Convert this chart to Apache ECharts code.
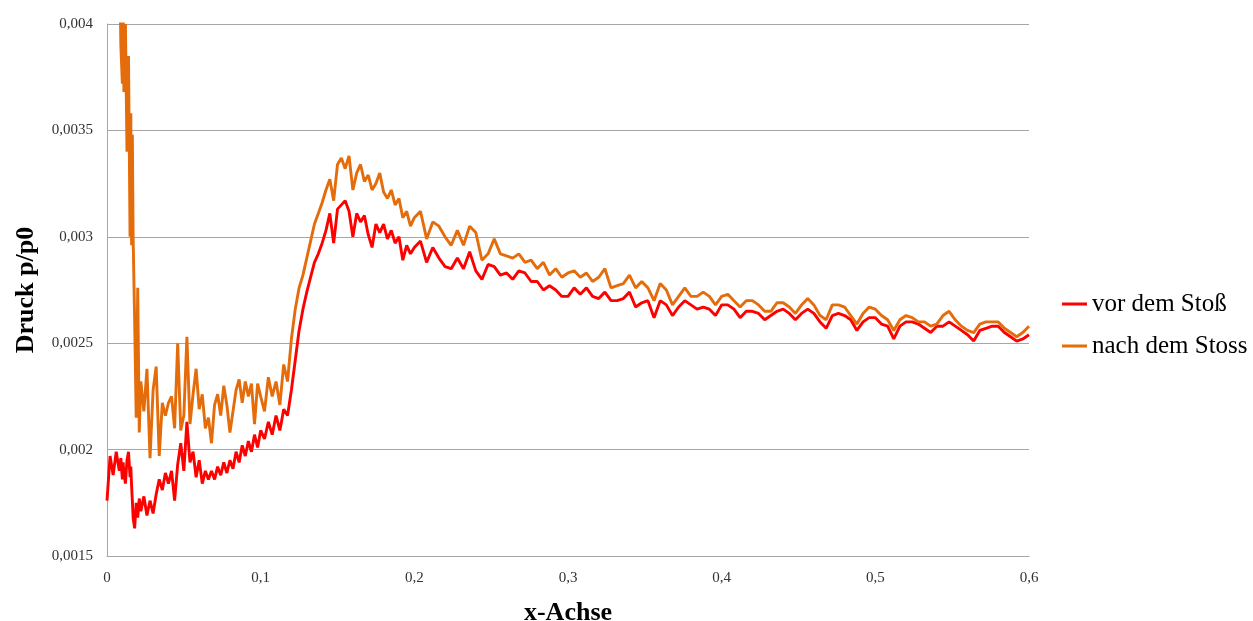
<!DOCTYPE html>
<html>
<head>
<meta charset="utf-8">
<script src="https://cdn.jsdelivr.net/npm/echarts@6/dist/echarts.min.js"></script>
<style>
  html, body { margin: 0; padding: 0; background: #ffffff; }
  #chart { width: 1253px; height: 621px; }
</style>
</head>
<body>
<div id="chart"></div>
<script>
// Messpositionen entlang der x-Achse
const xs = [
  0, 0.002, 0.004, 0.006, 0.008, 0.009, 0.010, 0.0105, 0.011, 0.012,
  0.013, 0.014, 0.015, 0.0155, 0.016, 0.0165, 0.017, 0.018, 0.019, 0.020,
  0.021, 0.022, 0.024, 0.026, 0.028, 0.030, 0.032, 0.034, 0.036, 0.038,
  0.040, 0.042, 0.044, 0.046, 0.048, 0.050, 0.052, 0.054, 0.056, 0.058,
  0.060, 0.062, 0.064, 0.066, 0.068, 0.070, 0.072, 0.074, 0.076, 0.078,
  0.080, 0.082, 0.084, 0.086, 0.088, 0.090, 0.092, 0.094, 0.096, 0.098,
  0.100,
  0.1025, 0.105, 0.1075, 0.110, 0.1125, 0.115, 0.1175, 0.120, 0.1225, 0.125,
  0.1275, 0.130, 0.1325, 0.135, 0.1375, 0.140, 0.1425, 0.145, 0.1475, 0.150,
  0.1525, 0.155, 0.1575, 0.160, 0.1625, 0.165, 0.1675, 0.170, 0.1725, 0.175,
  0.1775, 0.180, 0.1825, 0.185, 0.1875, 0.190, 0.1925, 0.195, 0.1975, 0.200,
  0.204, 0.208, 0.212, 0.216, 0.220, 0.224, 0.228, 0.232, 0.236, 0.240,
  0.244, 0.248, 0.252, 0.256, 0.260, 0.264, 0.268, 0.272, 0.276, 0.280,
  0.284, 0.288, 0.292, 0.296,
  0.300, 0.304, 0.308, 0.312, 0.316, 0.320, 0.324, 0.328, 0.332, 0.336,
  0.340, 0.344, 0.348, 0.352, 0.356, 0.360, 0.364, 0.368, 0.372, 0.376,
  0.380, 0.384, 0.388, 0.392, 0.396, 0.400, 0.404, 0.408, 0.412, 0.416,
  0.420, 0.424, 0.428, 0.432, 0.436, 0.440, 0.444, 0.448, 0.452, 0.456,
  0.460, 0.464, 0.468, 0.472, 0.476, 0.480, 0.484, 0.488, 0.492, 0.496,
  0.500, 0.504, 0.508, 0.512, 0.516, 0.520, 0.524, 0.528, 0.532, 0.536,
  0.540, 0.544, 0.548, 0.552, 0.556, 0.560, 0.564, 0.568, 0.572, 0.576,
  0.580, 0.584, 0.588, 0.592, 0.596, 0.600
];

// Druck p/p0 vor dem Stoß
const vorDemStoss = [
  0.00176, 0.00197, 0.00188, 0.00199, 0.00190, 0.00196, 0.00186, 0.00194, 0.00189, 0.00184,
  0.00195, 0.00199, 0.00187, 0.00192, 0.00183, 0.00176, 0.00168, 0.00163, 0.00175, 0.00168,
  0.00177, 0.00171, 0.00178, 0.00169, 0.00176, 0.00170, 0.00179, 0.00186, 0.00181, 0.00189,
  0.00184, 0.00190, 0.00176, 0.00193, 0.00203, 0.00190, 0.00213, 0.00194, 0.00199, 0.00187,
  0.00195, 0.00184, 0.00190, 0.00186, 0.00190, 0.00186, 0.00192, 0.00188, 0.00194, 0.00189,
  0.00195, 0.00191, 0.00199, 0.00194, 0.00202, 0.00197, 0.00204, 0.00199, 0.00207, 0.00201,
  0.00209,
  0.00205, 0.00213, 0.00207, 0.00216, 0.00209, 0.00219, 0.00216, 0.00228, 0.00242, 0.00256,
  0.00266, 0.00274, 0.00281, 0.00288, 0.00292, 0.00297, 0.00303, 0.00311, 0.00297, 0.00313,
  0.00315, 0.00317, 0.00312, 0.00300, 0.00311, 0.00307, 0.00310, 0.00301, 0.00295, 0.00306,
  0.00302, 0.00306, 0.00299, 0.00303, 0.00297, 0.00300, 0.00289, 0.00296, 0.00292, 0.00295,
  0.00298, 0.00288, 0.00295, 0.00290, 0.00286, 0.00285, 0.00290, 0.00285, 0.00293, 0.00284,
  0.00280, 0.00287, 0.00286, 0.00282, 0.00283, 0.00280, 0.00284, 0.00283, 0.00279, 0.00279,
  0.00275, 0.00277, 0.00275, 0.00272,
  0.00272, 0.00276, 0.00273, 0.00276, 0.00272, 0.00271, 0.00274, 0.00270, 0.00270, 0.00271,
  0.00274, 0.00267, 0.00269, 0.00270, 0.00262, 0.00270, 0.00268, 0.00263, 0.00267, 0.00270,
  0.00268, 0.00266, 0.00267, 0.00266, 0.00263, 0.00268, 0.00268, 0.00266, 0.00262, 0.00265,
  0.00265, 0.00264, 0.00261, 0.00263, 0.00265, 0.00266, 0.00264, 0.00261, 0.00264, 0.00266,
  0.00264, 0.00260, 0.00257, 0.00263, 0.00264, 0.00263, 0.00261, 0.00256, 0.00260, 0.00262,
  0.00262, 0.00259, 0.00258, 0.00252, 0.00258, 0.00260, 0.00260, 0.00259, 0.00257, 0.00255,
  0.00258, 0.00258, 0.00260, 0.00258, 0.00256, 0.00254, 0.00251, 0.00256, 0.00257, 0.00258,
  0.00258, 0.00255, 0.00253, 0.00251, 0.00252, 0.00254
];

// Druck p/p0 nach dem Stoss (Werte über 0,004 liegen außerhalb des Diagramms)
const nachDemStoss = [
  0.0045, 0.0045, 0.0045, 0.0045, 0.0044, 0.0039, 0.00372, 0.0041, 0.00368, 0.0040,
  0.00340, 0.00385, 0.00300, 0.00358, 0.00296, 0.00348, 0.00300, 0.00260, 0.00215, 0.00276,
  0.00208, 0.00232, 0.00218, 0.00238, 0.00196, 0.00228, 0.00239, 0.00197, 0.00222, 0.00216,
  0.00222, 0.00225, 0.00210, 0.00250, 0.00209, 0.00216, 0.00253, 0.00212, 0.00226, 0.00238,
  0.00219, 0.00226, 0.00210, 0.00215, 0.00203, 0.00221, 0.00226, 0.00216, 0.00230, 0.00221,
  0.00208, 0.00218, 0.00228, 0.00233, 0.00222, 0.00232, 0.00225, 0.00231, 0.00212, 0.00231,
  0.00225,
  0.00218, 0.00234, 0.00225, 0.00232, 0.00221, 0.00240, 0.00232, 0.00252, 0.00266, 0.00276,
  0.00282, 0.00290, 0.00298, 0.00306, 0.00311, 0.00316, 0.00322, 0.00327, 0.00317, 0.00334,
  0.00337, 0.00332, 0.00338, 0.00322, 0.00330, 0.00334, 0.00326, 0.00329, 0.00322, 0.00325,
  0.00330, 0.00321, 0.00318, 0.00322, 0.00315, 0.00318, 0.00309, 0.00312, 0.00305, 0.00309,
  0.00312, 0.00299, 0.00307, 0.00305, 0.00300, 0.00296, 0.00303, 0.00296, 0.00305, 0.00302,
  0.00289, 0.00292, 0.00299, 0.00292, 0.00291, 0.00290, 0.00292, 0.00288, 0.00289, 0.00285,
  0.00288, 0.00282, 0.00285, 0.00281,
  0.00283, 0.00284, 0.00281, 0.00283, 0.00279, 0.00281, 0.00285, 0.00276, 0.00277, 0.00278,
  0.00282, 0.00276, 0.00279, 0.00276, 0.00270, 0.00278, 0.00275, 0.00268, 0.00272, 0.00276,
  0.00272, 0.00272, 0.00274, 0.00272, 0.00268, 0.00272, 0.00273, 0.00270, 0.00267, 0.00270,
  0.00270, 0.00268, 0.00265, 0.00265, 0.00269, 0.00269, 0.00267, 0.00264, 0.00268, 0.00271,
  0.00268, 0.00263, 0.00261, 0.00268, 0.00268, 0.00267, 0.00263, 0.00259, 0.00264, 0.00267,
  0.00266, 0.00263, 0.00261, 0.00256, 0.00261, 0.00263, 0.00262, 0.00260, 0.00260, 0.00258,
  0.00259, 0.00263, 0.00265, 0.00261, 0.00258, 0.00256, 0.00255, 0.00259, 0.00260, 0.00260,
  0.00260, 0.00257, 0.00255, 0.00253, 0.00255, 0.00258
];

const seriesNames = ['vor dem Stoß', 'nach dem Stoss'];
const xTitle = 'x-Achse';
const yTitle = 'Druck p/p0';

// Dezimalkomma wie in der deutschen Schreibweise
function deComma(v) {
  return String(+v.toFixed(6)).replace('.', ',');
}

function pairs(ys) {
  return xs.map((x, i) => [x, ys[i]]);
}

const serif = 'Liberation Serif';
const chart = echarts.init(document.getElementById('chart'), null, { renderer: 'canvas' });

chart.setOption({
  animation: false,
  backgroundColor: '#ffffff',
  grid: {
    left: 107, right: 224, top: 24, bottom: 65,
    containLabel: false,
    outerBoundsMode: 'none'
  },
  legend: {
    orient: 'vertical',
    left: 1057,
    top: 285,
    icon: 'rect',
    itemWidth: 25,
    itemHeight: 3,
    itemGap: 14,
    data: seriesNames,
    textStyle: { fontFamily: serif, fontSize: 25, color: '#000000', lineHeight: 28 }
  },
  xAxis: {
    type: 'value',
    min: 0,
    max: 0.6,
    interval: 0.1,
    name: xTitle,
    nameLocation: 'middle',
    nameGap: 44,
    nameTextStyle: { fontFamily: serif, fontWeight: 'bold', fontSize: 26, color: '#000000' },
    axisLine: { show: true, lineStyle: { color: '#a6a6a6', width: 1 } },
    axisTick: { show: false },
    splitLine: { show: false },
    axisLabel: {
      margin: 15,
      fontFamily: serif,
      fontSize: 15,
      color: '#333333',
      formatter: deComma
    }
  },
  yAxis: {
    type: 'value',
    min: 0.0015,
    max: 0.004,
    interval: 0.0005,
    name: yTitle,
    nameLocation: 'middle',
    nameGap: 68,
    nameRotate: 90,
    nameTextStyle: { fontFamily: serif, fontWeight: 'bold', fontSize: 26, color: '#000000' },
    axisLine: { show: true, lineStyle: { color: '#a6a6a6', width: 1 } },
    axisTick: { show: false },
    splitLine: { show: true, lineStyle: { color: '#a6a6a6', width: 1 } },
    axisLabel: {
      margin: 14,
      fontFamily: serif,
      fontSize: 15,
      color: '#333333',
      formatter: deComma
    }
  },
  series: [
    {
      name: seriesNames[0],
      type: 'line',
      data: pairs(vorDemStoss),
      symbol: 'none',
      clip: true,
      lineStyle: { color: '#ff0000', width: 2.9 },
      itemStyle: { color: '#ff0000' },
      z: 2
    },
    {
      name: seriesNames[1],
      type: 'line',
      data: pairs(nachDemStoss),
      symbol: 'none',
      clip: true,
      lineStyle: { color: '#e46c0a', width: 2.9 },
      itemStyle: { color: '#e46c0a' },
      z: 3
    }
  ]
});
</script>
</body>
</html>
